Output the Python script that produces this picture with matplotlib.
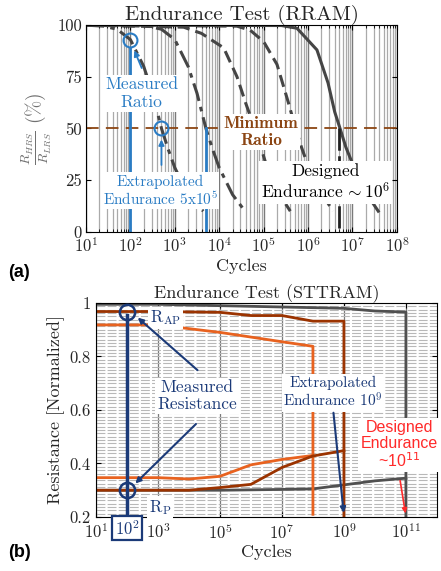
import numpy as np
import matplotlib
matplotlib.use('Agg')
import matplotlib.pyplot as plt
from matplotlib.ticker import (LogLocator, MultipleLocator, NullLocator, FixedLocator,
                               FixedFormatter, FuncFormatter)

plt.rcParams['font.family'] = 'cmr10'
plt.rcParams['mathtext.fontset'] = 'cm'
plt.rcParams['axes.formatter.use_mathtext'] = False
plt.rcParams['axes.unicode_minus'] = False

# --- (a) RRAM endurance: log10(cycles) and HRS/LRS ratio (%) per curve
rram_log_1 = [1.0, 1.4, 1.7, 2.0, 2.3, 2.5, 2.7, 2.85, 3.0, 3.3, 3.64]
rram_val_1 = [100, 99.5, 98, 93, 80, 67, 50, 40, 31, 18, 10]
rram_log_2 = [1.0, 2.4, 2.7, 3.0, 3.3, 3.5, 3.7, 3.85, 4.0, 4.3, 4.58]
rram_val_2 = [100, 99.5, 98, 93, 80, 67, 50, 40, 31, 18, 10]
rram_log_3 = [1.0, 3.2, 3.6, 4.1, 4.4, 4.6, 4.8, 4.95, 5.05, 5.3, 5.6]
rram_val_3 = [100, 99, 96, 89, 75, 62, 50, 40, 33, 20, 10]
rram_log_4 = [1.0, 4.4, 4.7, 5.0, 5.3, 5.55, 5.72, 5.85, 6.0, 6.3, 6.56]
rram_val_4 = [100, 99.5, 97.5, 92, 81, 63, 50, 41, 32, 19, 10]
rram_log_5 = [1.0, 5.4, 5.75, 6.2, 6.45, 6.6, 6.72, 6.85, 7.0, 7.3, 7.58]
rram_val_5 = [100, 99.8, 98.5, 88, 72, 58, 50, 41, 33, 19, 10]
rram_styles = [(0, (6, 2, 1.5, 2)), (0, (6, 2, 1.5, 2)), (0, (4, 2)), (0, (4, 2)), '-']

min_ratio = 50
measured_pt = (1e2, 93)
extrap_pt = (5e2, 50)
extrap_line_x = 5e3
designed_x = 5e6

# --- (b) STTRAM endurance: cycles and normalized resistance
gray_ap_x = [1e1, 1e3, 1e5, 1e7, 1e9, 1e10, 1e11, 1e11]
gray_ap_y = [0.995, 0.995, 0.99, 0.985, 0.98, 0.97, 0.966, 0.2]
gray_p_x = [1e1, 1e3, 1e5, 1e7, 1e8, 1e9, 1e10, 1e11]
gray_p_y = [0.30, 0.30, 0.30, 0.303, 0.305, 0.32, 0.335, 0.345]

brown_ap_x = [1e1, 1e3, 1e5, 1e6, 1e7, 1e8, 1e9, 1e9]
brown_ap_y = [0.968, 0.968, 0.965, 0.953, 0.953, 0.932, 0.932, 0.2]
brown_p_x = [1e1, 1e3, 1e4, 1e5, 1e6, 1e7, 1e8, 1e9]
brown_p_y = [0.30, 0.30, 0.30, 0.31, 0.322, 0.385, 0.428, 0.448]

orange_ap_x = [1e1, 1e3, 1e5, 1e7, 1e8, 1e8]
orange_ap_y = [0.918, 0.918, 0.89, 0.855, 0.838, 0.21]
orange_p_x = [1e1, 1e3, 1e4, 1e5, 1e6, 1e7, 1e8]
orange_p_y = [0.347, 0.347, 0.342, 0.352, 0.395, 0.415, 0.43]

meas_ap = (1e2, 0.965)
meas_p = (1e2, 0.30)

GRAY = '#454545'
BLUE = '#2a7cc4'
BROWN = '#8b4513'
B_GRAY = '#505050'
B_BROWN = '#9b3300'
B_ORANGE = '#e8621f'
NAVY = '#1b3a78'
RED = '#ff2a2a'
TXT = '#262626'

pow_fmt = FuncFormatter(lambda v, p: '$10^{%d}$' % int(round(np.log10(v))))

fig = plt.figure(figsize=(4.41, 5.71), dpi=100)
box = dict(boxstyle='square,pad=0.12', fc='white', ec='none')

# ================= panel (a)
ax = fig.add_axes([0.195, 0.594, 0.705, 0.362])
ax.set_xscale('log')
ax.set_xlim(1e1, 1e8)
ax.set_ylim(0, 100)

curves = [(rram_log_1, rram_val_1), (rram_log_2, rram_val_2), (rram_log_3, rram_val_3),
          (rram_log_4, rram_val_4), (rram_log_5, rram_val_5)]
for (lx, vy), ls in zip(curves, rram_styles):
    ax.plot(10 ** np.array(lx), vy, color=GRAY, lw=2.2, ls=ls, zorder=2)

ax.axhline(min_ratio, color=BROWN, lw=1.3, ls=(0, (7, 4)), zorder=2)

ax.plot([measured_pt[0]] * 2, [measured_pt[1] - 4, 0], color=BLUE, lw=2, zorder=2)
ax.plot([extrap_line_x] * 2, [min_ratio, 0], color=BLUE, lw=2, zorder=2)
ax.plot(*measured_pt, 'o', ms=10, mfc='none', mec=BLUE, mew=1.5, zorder=4)
ax.plot(*extrap_pt, 'o', ms=10, mfc='none', mec=BLUE, mew=1.5, zorder=4)
ax.plot([designed_x] * 2, [min_ratio, 0], color='#202020', lw=2, ls=(0, (8, 2, 2, 2)), zorder=2)

ax.text(180, 67, 'Measured\nRatio', color=BLUE, fontsize=12.5, ha='center', va='center',
        bbox=box, zorder=5, linespacing=1.15)
ax.annotate('', xy=(116, 89), xytext=(190, 78),
            arrowprops=dict(arrowstyle='-|>', color=BLUE, lw=1.3, mutation_scale=8), zorder=5)
ax.text(465, 19.8, 'Extrapolated\nEndurance 5x$10^5$', color=BLUE, fontsize=11, ha='center',
        va='center', bbox=box, zorder=5, linespacing=1.1)
ax.annotate('', xy=(5e2, 46), xytext=(5e2, 31),
            arrowprops=dict(arrowstyle='-|>', color=BLUE, lw=1.3, mutation_scale=8), zorder=5)
ax.text(8.7e4, 48.3, 'Minimum\nRatio', color=BROWN, fontsize=12.5, family='cmb10', ha='center',
        va='center', bbox=box, zorder=5, linespacing=1.15)
ax.text(2.5e6, 24, 'Designed\nEndurance$\\,{\\sim}10^6$', color='black', fontsize=12.5,
        ha='center', va='center', bbox=box, zorder=5, linespacing=1.15)

ax.set_yticks([0, 25, 50, 75, 100])
ax.set_yticklabels(['0', '25', '50', '75', '100'])
ax.xaxis.set_major_locator(LogLocator(base=10, numticks=20))
ax.xaxis.set_major_formatter(pow_fmt)
ax.xaxis.set_minor_locator(LogLocator(base=10, subs=np.arange(2, 10), numticks=100))
ax.grid(which='major', axis='x', color='#7a7a7a', lw=1.0)
ax.grid(which='minor', axis='x', color='#aaaaaa', lw=0.9)
ax.set_axisbelow(True)
ax.tick_params(which='both', direction='in', top=True, right=True, labelsize=12, pad=3,
               labelcolor=TXT)
ax.tick_params(which='minor', length=2)
ax.set_title('Endurance Test (RRAM)', fontsize=15, pad=2, color=TXT)
ax.set_xlabel('Cycles', fontsize=13, labelpad=2, color=TXT)
ax.set_ylabel(r'$\frac{R_{HRS}}{R_{LRS}}$ (%)', fontsize=14, color='#707070', labelpad=2)

fig.text(0.018, 0.522, '(a)', family='Liberation Sans', fontweight='bold', fontsize=13, va='center')

# ================= panel (b)
ax2 = fig.add_axes([0.2177, 0.0946, 0.773, 0.3748])
ax2.set_xscale('log')
ax2.set_xlim(1e1, 1e12)
ax2.set_ylim(0.2, 1.0)

ax2.plot(gray_ap_x, gray_ap_y, color=B_GRAY, lw=2, zorder=2)
ax2.plot(gray_p_x, gray_p_y, color=B_GRAY, lw=2, zorder=2)
ax2.plot(orange_ap_x, orange_ap_y, color=B_ORANGE, lw=2, zorder=2)
ax2.plot(orange_p_x, orange_p_y, color=B_ORANGE, lw=2, zorder=2)
ax2.plot(brown_ap_x, brown_ap_y, color=B_BROWN, lw=2, zorder=2)
ax2.plot(brown_p_x, brown_p_y, color=B_BROWN, lw=2, zorder=2)

ax2.plot([meas_ap[0]] * 2, [meas_ap[1] - 0.01, 0.2], color=NAVY, lw=2.5, zorder=3)
ax2.plot(*meas_ap, 'o', ms=11, mfc='none', mec=NAVY, mew=1.8, zorder=4)
ax2.plot(*meas_p, 'o', ms=11, mfc='none', mec=NAVY, mew=1.8, zorder=4)

ax2.text(1.7e3, 0.944, r'R$_{\mathrm{AP}}$', color=NAVY, fontsize=12, ha='center', va='center',
         bbox=box, zorder=5)
ax2.text(1.15e3, 0.237, r'R$_{\mathrm{P}}$', color=NAVY, fontsize=12, ha='center', va='center',
         bbox=box, zorder=5)
ax2.text(1.8e4, 0.652, 'Measured\nResistance', color=NAVY, fontsize=12.5, ha='center',
         va='center', bbox=box, zorder=5, linespacing=1.1)
arrow_navy = dict(arrowstyle='-|>', color=NAVY, lw=1.5, mutation_scale=8)
ax2.annotate('', xy=(1.9e2, 0.952), xytext=(2.2e4, 0.742), arrowprops=arrow_navy, zorder=5)
ax2.annotate('', xy=(1.6e2, 0.318), xytext=(1.95e4, 0.555), arrowprops=arrow_navy, zorder=5)
ax2.text(4.5e8, 0.664, 'Extrapolated\nEndurance $10^9$', color=NAVY, fontsize=11, ha='center',
         va='center', bbox=box, zorder=5, linespacing=1.1)
ax2.annotate('', xy=(1e9, 0.205), xytext=(4.5e8, 0.60), arrowprops=arrow_navy, zorder=5)
ax2.text(6.0e10, 0.469, 'Designed\nEndurance\n~10$^{11}$', color=RED, fontsize=11.5,
         family='Liberation Sans', math_fontfamily='dejavusans', ha='center', va='center',
         bbox=box, zorder=5, linespacing=1.05, clip_on=False)
ax2.annotate('', xy=(1e11, 0.203), xytext=(6.3e10, 0.346),
             arrowprops=dict(arrowstyle='-|>', color=RED, lw=1.2, mutation_scale=7), zorder=5)
ax2.annotate('$10^2$', xy=(1e2, -0.052), xycoords=('data', 'axes fraction'), color=NAVY,
             fontsize=12, ha='center', va='center', annotation_clip=False,
             bbox=dict(boxstyle='square,pad=0.15', fc='white', ec=NAVY, lw=1.6))

ax2.xaxis.set_major_locator(FixedLocator([1e1, 1e3, 1e5, 1e7, 1e9, 1e11]))
ax2.xaxis.set_major_formatter(pow_fmt)
ax2.xaxis.set_minor_locator(NullLocator())
ax2.yaxis.set_major_locator(FixedLocator([0.2, 0.4, 0.6, 0.8, 1.0]))
ax2.yaxis.set_major_formatter(FixedFormatter(['0.2', '0.4', '0.6', '0.8', '1']))
ax2.yaxis.set_minor_locator(MultipleLocator(0.0125))
ax2.grid(which='major', axis='x', color='#7a7a7a', lw=0.9)
ax2.grid(which='both', axis='y', color='#b8b8b8', lw=0.8, ls=(0, (8, 2)))
ax2.set_axisbelow(True)
ax2.tick_params(which='both', direction='in', top=True, right=True, labelsize=12, pad=4,
                labelcolor=TXT)
ax2.tick_params(which='minor', length=0)
ax2.set_title('Endurance Test (STTRAM)', fontsize=13, pad=3, color=TXT)
ax2.set_xlabel('Cycles', fontsize=13, labelpad=2, color=TXT)
ax2.set_ylabel('Resistance [Normalized]', fontsize=13, labelpad=3, color=TXT)

fig.text(0.018, 0.032, '(b)', family='Liberation Sans', fontweight='bold', fontsize=13, va='center')

fig.savefig('out.png', dpi=100)
